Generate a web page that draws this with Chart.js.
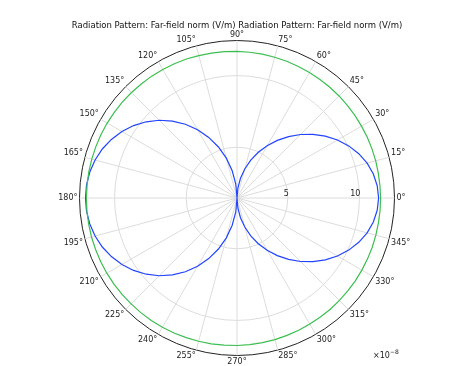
<!DOCTYPE html>
<html lang="en">
<head>
  <meta charset="UTF-8">
  <title>Radiation Pattern</title>
  <script src="https://cdn.jsdelivr.net/npm/chart.js"></script>
  <style>
    body { margin: 0; background: #fff; }
    canvas { display: block; }
  </style>
</head>
<body>
  <canvas id="polar" width="474" height="366"></canvas>

  <script>
    // angles in degrees, counterclockwise from the right (0°)
    const angles = [];
    for (let a = 0; a < 360; a += 5) angles.push(a);

    // far-field norm (x1e-8 V/m), one value per 5°
    const blueNorm = [
      11.34, 11.28, 11.12, 10.86, 10.50, 10.06, 9.55, 8.98, 8.37, 7.72, 7.05, 6.36,
      5.66, 4.97, 4.26, 3.55, 2.85, 2.15, 1.45, 2.42, 3.38, 4.33, 5.24, 6.12,
      6.95, 7.74, 8.46, 9.13, 9.73, 10.27, 10.73, 11.13, 11.46, 11.71, 11.89, 12.00,
      12.03, 12.00, 11.89, 11.71, 11.46, 11.13, 10.73, 10.27, 9.73, 9.13, 8.46, 7.74,
      6.95, 6.12, 5.24, 4.33, 3.38, 2.42, 1.45, 2.15, 2.85, 3.55, 4.26, 4.97,
      5.66, 6.36, 7.05, 7.72, 8.37, 8.98, 9.55, 10.06, 10.50, 10.86, 11.12, 11.28
    ];
    const greenNorm = [
      11.48, 11.47, 11.47, 11.48, 11.48, 11.49, 11.49, 11.50, 11.51, 11.53, 11.54, 11.55,
      11.57, 11.59, 11.61, 11.63, 11.65, 11.67, 11.69, 11.71, 11.73, 11.75, 11.78, 11.80,
      11.82, 11.84, 11.85, 11.87, 11.89, 11.90, 11.92, 11.93, 11.94, 11.95, 11.96, 11.96,
      11.97, 11.97, 11.97, 11.97, 11.96, 11.96, 11.95, 11.94, 11.93, 11.91, 11.90, 11.89,
      11.87, 11.85, 11.83, 11.81, 11.79, 11.77, 11.75, 11.73, 11.71, 11.69, 11.66, 11.64,
      11.62, 11.60, 11.59, 11.57, 11.55, 11.54, 11.52, 11.51, 11.50, 11.49, 11.48, 11.48
    ];

    const radialTicks = [5, 10];
    const rMin = 1.45;
    const rMax = 12.45;
    const titleText = "Radiation Pattern: Far-field norm (V/m)";

    // radar goes clockwise from its start angle, so walk the angles backwards
    const order = angles.map((_, i) => (angles.length - i) % angles.length);
    const labels = order.map(i => angles[i] + "°");

    const tickLabels = {
      id: "tickLabels",
      afterDraw(chart) {
        const r = chart.scales.r;
        const ctx = chart.ctx;
        ctx.save();
        ctx.fillStyle = "#222";
        ctx.font = "8px 'DejaVu Sans'";
        ctx.textAlign = "right";
        ctx.textBaseline = "bottom";
        radialTicks.forEach(v => {
          const d = r.getDistanceFromCenterForValue(v);
          ctx.fillText(String(v), r.xCenter + d + 1, r.yCenter);
        });
        // axis multiplier, bottom right
        ctx.textAlign = "left";
        ctx.textBaseline = "alphabetic";
        ctx.fillText("×10", 373, 358);
        const w = ctx.measureText("×10").width;
        ctx.font = "6px 'DejaVu Sans'";
        ctx.fillText("−8", 373 + w, 354);
        ctx.restore();
      }
    };

    new Chart(document.getElementById("polar"), {
      type: "radar",
      data: {
        labels: labels,
        datasets: [
          {
            label: "green",
            data: order.map(i => greenNorm[i]),
            borderColor: "rgb(60,190,80)",
            borderWidth: 1.2,
            fill: false,
            pointRadius: 0
          },
          {
            label: "blue",
            data: order.map(i => blueNorm[i]),
            borderColor: "rgb(34,68,255)",
            borderWidth: 1.2,
            fill: false,
            pointRadius: 0
          }
        ]
      },
      options: {
        responsive: false,
        animation: false,
        layout: { padding: 0 },
        plugins: {
          legend: { display: false },
          tooltip: { enabled: false },
          title: {
            display: true,
            text: titleText + " " + titleText,
            color: "#111",
            font: { family: "'DejaVu Sans'", size: 8.5, weight: "normal", lineHeight: 1 },
            padding: { top: 22, bottom: 0 }
          }
        },
        scales: {
          r: {
            min: rMin,
            max: rMax,
            startAngle: 90,
            afterBuildTicks: scale => {
              scale.ticks = [rMin].concat(radialTicks, [rMax]).map(v => ({ value: v }));
            },
            ticks: { display: false },
            grid: {
              circular: true,
              color: c => (c.tick && c.tick.value === rMax ? "#222" : "#dcdcdc"),
              lineWidth: 1
            },
            angleLines: {
              display: true,
              color: c => (angles[order[c.index]] % 15 === 0 ? "#dcdcdc" : "rgba(0,0,0,0)"),
              lineWidth: 1
            },
            pointLabels: {
              callback: (label, i) => (angles[order[i]] % 15 === 0 ? label : ""),
              color: "#222",
              padding: 2,
              font: { family: "'DejaVu Sans'", size: 8, lineHeight: 1 }
            }
          }
        }
      },
      plugins: [tickLabels]
    });
  </script>
</body>
</html>
